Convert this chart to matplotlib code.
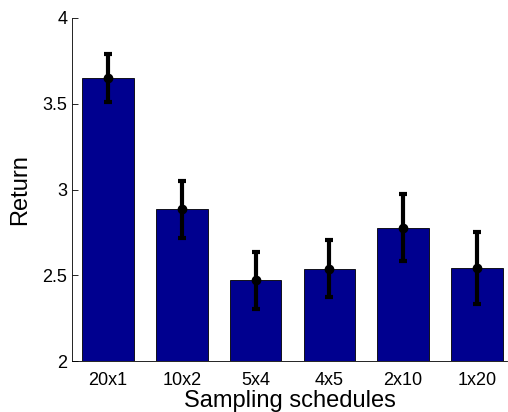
import matplotlib
matplotlib.use("Agg")
import matplotlib.pyplot as plt

schedules = ["20x1", "10x2", "5x4", "4x5", "2x10", "1x20"]
returns = [3.65, 2.885, 2.472, 2.538, 2.778, 2.542]
errors = [0.138, 0.165, 0.166, 0.166, 0.193, 0.209]

plt.rcParams['font.family'] = ['Liberation Sans', 'DejaVu Sans']

fig = plt.figure(figsize=(5.08, 4.12), dpi=100)
ax = fig.add_axes([72 / 508, 51 / 412, 435 / 508, 343 / 412])

x = list(range(1, len(schedules) + 1))
ax.bar(x, [r - 2 for r in returns], bottom=2, width=0.7, color='#00008F',
       edgecolor='black', linewidth=0.6, zorder=2)
ax.errorbar(x, returns, yerr=errors, fmt='o', color='black', ecolor='black',
            elinewidth=3, capsize=3, capthick=3, markersize=6, zorder=3)

ax.set_xlim(0.51, 6.41)
ax.set_ylim(2, 4)
ax.set_yticks([2, 2.5, 3, 3.5, 4])
ax.set_yticklabels(["2", "2.5", "3", "3.5", "4"])
ax.set_xticks(x)
ax.set_xticklabels(schedules)
ax.tick_params(axis='both', direction='in', labelsize=13, length=4, width=0.6)
ax.tick_params(axis='x', length=0, pad=8)
ax.spines['top'].set_visible(False)
ax.spines['right'].set_visible(False)
ax.spines['left'].set_linewidth(0.6)
ax.spines['bottom'].set_linewidth(0.6)

ax.set_xlabel("Sampling schedules", fontsize=17, labelpad=1)
ax.set_ylabel("Return", fontsize=17, labelpad=8)

fig.savefig("out.png", dpi=100)
